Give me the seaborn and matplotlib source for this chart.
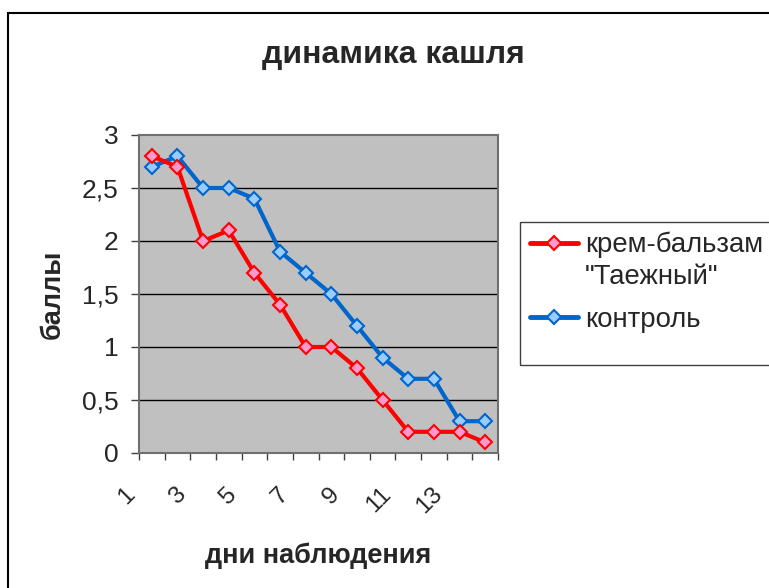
import matplotlib
matplotlib.use("Agg")
import matplotlib.pyplot as plt
from matplotlib.patches import Rectangle
import seaborn as sns
import pandas as pd

days = list(range(1, 15))
balsam = [2.8, 2.7, 2.0, 2.1, 1.7, 1.4, 1.0, 1.0, 0.8, 0.5, 0.2, 0.2, 0.2, 0.1]
control = [2.7, 2.8, 2.5, 2.5, 2.4, 1.9, 1.7, 1.5, 1.2, 0.9, 0.7, 0.7, 0.3, 0.3]
x_labels = ["1", "3", "5", "7", "9", "11", "13"]
y_ticks = [0, 0.5, 1, 1.5, 2, 2.5, 3]
y_labels = ["0", "0,5", "1", "1,5", "2", "2,5", "3"]

df = pd.DataFrame({"day": days, "balsam": balsam, "control": control})

sns.set_style("white")
plt.rcParams["font.family"] = ["Liberation Sans", "DejaVu Sans"]

W, H = 769, 588
fig = plt.figure(figsize=(W / 100, H / 100), dpi=100)
ax = fig.add_axes([139 / W, 1 - 453 / H, (498 - 139) / W, (453 - 135) / H])
ax.set_facecolor("#C0C0C0")

sns.lineplot(data=df, x="day", y="balsam", ax=ax, color="#FF0000", linewidth=3,
             marker="D", markersize=7, markerfacecolor="#FF99CC",
             markeredgecolor="#FF0000", markeredgewidth=1.5,
             label="крем-бальзам", zorder=4)
sns.lineplot(data=df, x="day", y="control", ax=ax, color="#0066CC", linewidth=3,
             marker="D", markersize=7, markerfacecolor="#99CCFF",
             markeredgecolor="#0066CC", markeredgewidth=1.5,
             label="контроль", zorder=3)

# tick marks between categories; rotated labels hang left of the odd days
ax.set_xticks([int(s) - 0.5 for s in x_labels])
ax.set_xticklabels(x_labels, rotation=45, ha="right", va="bottom",
                   rotation_mode="anchor", fontsize=17.5)
ax.set_xticks([d - 0.5 for d in days] + [days[-1] + 0.5], minor=True)
ax.tick_params(axis="x", which="both", direction="out", length=5, width=1,
               color="#404040", bottom=True)
ax.tick_params(axis="x", which="major", pad=28)

ax.set_xlim(0.5, 14.5)
ax.set_ylim(0, 3)

ax.set_yticks(y_ticks)
ax.set_yticklabels(y_labels, fontsize=19)
ax.tick_params(axis="y", direction="out", length=6, width=1, color="#404040",
               left=True, pad=9)

for v in y_ticks[1:-1]:
    ax.axhline(v, color="black", linewidth=1, zorder=1)

for side in ["left", "bottom", "right", "top"]:
    ax.spines[side].set_visible(True)
    ax.spines[side].set_color("#707070")
    ax.spines[side].set_linewidth(1.5)

ax.set_xlabel("дни наблюдения", fontsize=19.5, fontweight="bold", labelpad=0)
ax.xaxis.set_label_coords(0.5, -0.28)
ax.set_ylabel("баллы", fontsize=19.5, fontweight="bold")
ax.yaxis.set_label_coords(-0.203, 0.5)

fig.text(393 / W, 1 - 55 / H, "динамика кашля", ha="center", va="center",
         fontsize=23, fontweight="bold")

# legend frame and figure border
fig.patches.append(Rectangle((520 / W, 1 - 365 / H), 300 / W, 143 / H,
                             transform=fig.transFigure, fill=False,
                             edgecolor="#404040", linewidth=1))
fig.patches.append(Rectangle((8 / W, -0.1), 1.2, 1 - 13 / H + 0.1,
                             transform=fig.transFigure, fill=False,
                             edgecolor="black", linewidth=1.5))

leg = ax.legend(loc="upper left", bbox_to_anchor=(530 / W, 1 - 232 / H),
                bbox_transform=fig.transFigure, frameon=False, fontsize=19.8,
                handlelength=1.75, handletextpad=0.25, labelspacing=1.75,
                borderaxespad=0, borderpad=0)
for line in leg.get_lines():
    line.set_linewidth(3.5)
fig.text(585 / W, 1 - 277 / H, '"Таежный"', ha="left", va="center",
         fontsize=19.8)

fig.savefig("out.png", dpi=100)
